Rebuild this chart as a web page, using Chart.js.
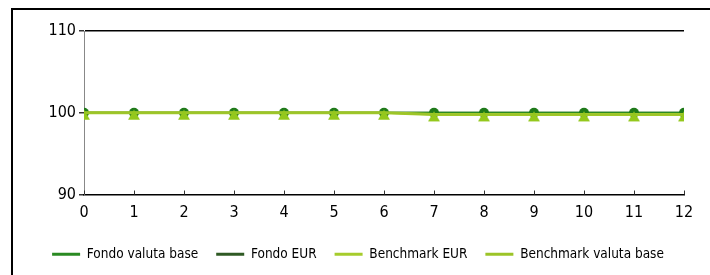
<!DOCTYPE html>
<html>
<head>
<meta charset="utf-8">
<script src="https://cdn.jsdelivr.net/npm/chart.js@4/dist/chart.umd.min.js"></script>
<style>
    html, body { margin: 0; padding: 0; background: #fff; }
    #wrap { position: relative; width: 710px; height: 275px; overflow: hidden; }
    #frame { position: absolute; left: 11px; top: 8px; width: 720px; height: 290px;
             border-left: 2px solid #000; border-top: 2px solid #000; pointer-events: none; }
    canvas { position: absolute; left: 0; top: 0; }
</style>
</head>
<body>
<div id="wrap">
    <canvas id="perf_chart" width="710" height="275"></canvas>
    <div id="frame"></div>
</div>
<script>
const months = [0, 1, 2, 3, 4, 5, 6, 7, 8, 9, 10, 11, 12]
const yTicks = [90, 100, 110]

const fondoValutaBase = [100, 100, 100, 100, 100, 100, 100, 100, 100, 100, 100, 100, 100]
const fondoEur = [100, 100, 100, 100, 100, 100, 100, 100, 100, 100, 100, 100, 100]
const benchmarkEur = [100, 100, 100, 100, 100, 100, 100, 99.8, 99.8, 99.8, 99.8, 99.8, 99.8]
const benchmarkValutaBase = [100, 100, 100, 100, 100, 100, 100, 99.8, 99.8, 99.8, 99.8, 99.8, 99.8]

const toPoints = (values) => values.map((v, i) => ({ x: months[i], y: v }))

const FONT = "'Liberation Sans Narrow', 'DejaVu Sans Condensed', 'Arial Narrow', sans-serif"

// triangle marker sitting a little low, like the original's
const triMarker = document.createElement('canvas')
triMarker.width = 14
triMarker.height = 16
const tctx = triMarker.getContext('2d')
tctx.fillStyle = '#94c81c'
tctx.beginPath()
tctx.moveTo(7, 5)
tctx.lineTo(13, 15)
tctx.lineTo(1, 15)
tctx.closePath()
tctx.fill()

// small tick marks pointing up into the plot on the x axis
const innerTicks = {
    id: 'innerTicks',
    afterDraw(chart) {
        const x = chart.scales.x
        const ctx = chart.ctx
        ctx.save()
        ctx.strokeStyle = '#333'
        ctx.lineWidth = 1
        x.ticks.forEach(t => {
            const px = Math.round(x.getPixelForValue(t.value)) + 0.5
            ctx.beginPath()
            ctx.moveTo(px, x.top)
            ctx.lineTo(px, x.top - 4)
            ctx.stroke()
        })
        ctx.restore()
    }
}

new Chart(document.querySelector('#perf_chart').getContext('2d'), {
    type: 'line',
    data: {
        datasets: [
            {
                label: 'Fondo valuta base',
                data: toPoints(fondoValutaBase),
                borderColor: '#2a8a22',
                backgroundColor: '#1f7a1a',
                borderWidth: 2,
                pointStyle: 'circle',
                pointRadius: 5,
                pointBorderWidth: 0,
                order: 2
            },
            {
                label: 'Fondo EUR',
                data: toPoints(fondoEur),
                borderColor: '#2f5a24',
                backgroundColor: '#2f5a24',
                borderWidth: 2,
                pointRadius: 0,
                order: 3
            },
            {
                label: 'Benchmark EUR',
                data: toPoints(benchmarkEur),
                borderColor: '#a6cc2c',
                backgroundColor: '#a6cc2c',
                borderWidth: 3,
                pointRadius: 0,
                order: 1
            },
            {
                label: 'Benchmark valuta base',
                data: toPoints(benchmarkValutaBase),
                borderColor: '#9cc428',
                backgroundColor: '#94c81c',
                borderWidth: 2,
                pointStyle: triMarker,
                pointRadius: 6,
                order: 0
            }
        ]
    },
    options: {
        responsive: false,
        animation: false,
        layout: {
            padding: { left: 32, right: 26, top: 31, bottom: 4 }
        },
        plugins: {
            legend: {
                display: true,
                position: 'bottom',
                labels: {
                    usePointStyle: true,
                    pointStyle: 'line',
                    pointStyleWidth: 28,
                    boxHeight: 3,
                    color: '#000',
                    padding: 18,
                    font: { family: FONT, size: 13.5 },
                    generateLabels: (chart) => chart.data.datasets.map((ds, i) => ({
                        text: ds.label,
                        strokeStyle: ds.borderColor,
                        fillStyle: ds.borderColor,
                        lineWidth: 3,
                        pointStyle: 'line',
                        datasetIndex: i,
                        hidden: false
                    }))
                }
            },
            tooltip: { enabled: false }
        },
        scales: {
            x: {
                type: 'linear',
                min: 0,
                max: 12,
                ticks: {
                    stepSize: 1,
                    color: '#000',
                    padding: 1,
                    font: { family: FONT, size: 16 }
                },
                grid: { display: false },
                border: { display: true, color: '#000', width: 1.5 },
                afterFit: (scale) => { scale.height = 35 }
            },
            y: {
                min: 90,
                max: 110,
                afterBuildTicks: (scale) => { scale.ticks = yTicks.map(v => ({ value: v })) },
                ticks: {
                    color: '#000',
                    padding: 3,
                    font: { family: FONT, size: 16 }
                },
                grid: {
                    drawOnChartArea: true,
                    tickLength: 5,
                    tickColor: '#333',
                    color: (c) => c.tick && c.tick.value === 110 ? '#000' : 'rgba(0,0,0,0)',
                    lineWidth: 1.5
                },
                border: { display: true, color: '#888', width: 1 },
                afterFit: (scale) => { scale.width = 52 }
            }
        }
    },
    plugins: [innerTicks]
})
</script>
</body>
</html>
